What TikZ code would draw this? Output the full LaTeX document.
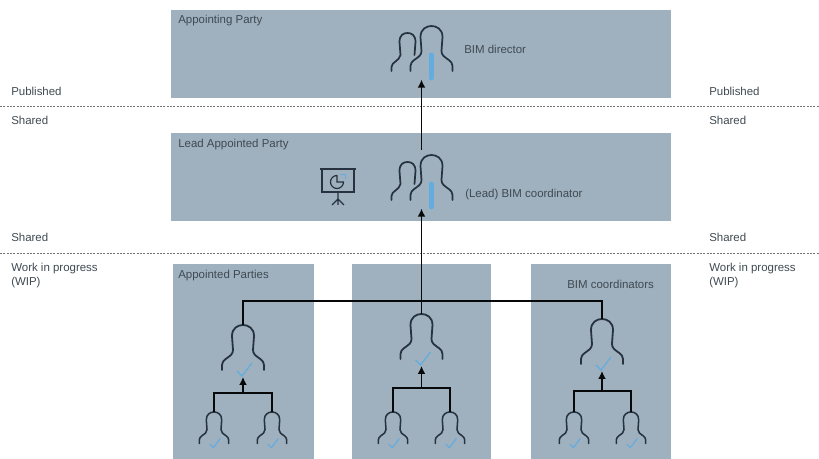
\documentclass[tikz,border=0pt]{standalone}
\usepackage{fontspec}
\setmainfont{Liberation Sans}
\usetikzlibrary{positioning,arrows.meta}
\definecolor{panel}{HTML}{9FB1BF}
\definecolor{ink}{HTML}{26333F}
\definecolor{tiecol}{HTML}{62ACDF}
\definecolor{txt}{HTML}{3F4A52}

\tikzset{
    person/.pic={
        \draw[ink, line cap=round, line join=round]
            (-21,45) -- (-21,40) .. controls (-21,35) and (-15,33) .. (-12,30)
            .. controls (-10.5,28) and (-10,27) .. (-10,25)
            -- (-11,11)
            .. controls (-11,3) and (-5,0) .. (0,0)
            .. controls (5,0) and (11,3) .. (11,11)
            -- (10,25)
            .. controls (10,27) and (10.5,28) .. (12,30)
            .. controls (15,33) and (21,35) .. (21,40) -- (21,45);
        \draw[tiecol, line width=.9pt] (-6,46) -- (-1,51) -- (9,38);
    },
    team/.pic={
        \draw[ink, line width=1.3pt, line cap=round, line join=round]
            (-30,45) -- (-30,41) .. controls (-30,36) and (-22,35) .. (-21,29)
            -- (-22,16)
            .. controls (-22,9) and (-18,7) .. (-14,7)
            .. controls (-10,7) and (-6,9) .. (-6,16)
            -- (-7,29);
        \draw[ink, line width=1.3pt, line cap=round, line join=round]
            (-11,45) -- (-11,40) .. controls (-11,35) and (-5,33) .. (-2,30)
            .. controls (-0.5,28) and (0,27) .. (0,25)
            -- (-1,11)
            .. controls (-1,3) and (5,0) .. (10,0)
            .. controls (15,0) and (21,3) .. (21,11)
            -- (20,25)
            .. controls (20,27) and (20.5,28) .. (22,30)
            .. controls (25,33) and (31,35) .. (31,40) -- (31,45);
        \draw[tiecol, line width=3.6pt, line cap=round] (10,29) -- (10,52);
    },
    screen/.pic={
        \draw[ink, line width=.9pt] (-18,-12) -- (18,-12);
        \draw[ink, line width=.9pt] (-16,-12) rectangle (16,11);
        \draw[ink, line width=.9pt] (5.5,1) arc (0:270:6.5) -- (-1,1) -- cycle;
        \draw[tiecol, line width=.7pt] (2,-7) -- (7,-7) -- (7,-2);
        \draw[ink, line width=.9pt] (0,11) -- (0,24) (-6,24) -- (0,18) -- (6,24);
    }
}

\begin{document}
\begin{tikzpicture}[
    x=.75pt, y=-.75pt,
    box/.style ={fill=panel, draw=none},
    lbl/.style ={anchor=west, yshift=-.7pt, inner sep=0pt, align=left, text=txt,
        font=\fontsize{8.6}{10.6}\selectfont},
    who/.style ={anchor=north, inner sep=0pt, outer sep=0pt, minimum width=31pt},
    group/.style ={anchor=north, inner sep=0pt, outer sep=4pt, minimum width=45pt, minimum height=36pt},
    wire/.style ={draw=black!85!ink, line width=1.25pt},
    >={Latex[length=6pt,width=6pt]}
    ]
    \useasboundingbox (0,0) rectangle (819,459);

    % panels
    \fill[box] (171,10) rectangle (671,98);
    \fill[box] (171,133) rectangle (671,221);
    \foreach \x/\w in {173/141, 352/139, 531/140}
        \fill[box] (\x,264) rectangle (\x+\w,459);

    % levels
    \foreach \y in {106, 253}
        \draw[black!55, line width=.5pt, dash pattern=on 1.5pt off 1pt] (0,\y) -- (819,\y);

    \foreach \x in {11, 709} {
        \node[lbl] at (\x,90) {Published};
        \node[lbl] at (\x,119) {Shared};
        \node[lbl] at (\x,236) {Shared};
        \node[lbl, anchor=north west] at (\x,262) {Work in progress\\(WIP)};
    }

    \node[lbl] (appointing) at (178,20) {Appointing Party};
    \node[lbl] (leadparty) at (178,144) {Lead Appointed Party};
    \node[lbl] (appointed) at (178,275) {Appointed Parties};
    \node[lbl] (coords) at (567,283) {BIM coordinators};
    \node[lbl] (dirtext) at (464,48) {BIM director};
    \node[lbl] (leadtext) at (465,194) {(Lead) BIM coordinator};

    % people
    \node[group] (director) at (421.5,21) {};
    \pic at (421.5,26) {team};
    \node[group] (lead) at (421.5,150) {};
    \pic at (421.5,155) {team};
    \pic at (338,181) {screen};

    \foreach \name/\x/\y in {leftchief/243/325, midchief/421.5/314, rightchief/602/319} {
        \node[who, minimum height=39pt] (\name) at (\x,\y) {};
        \pic[line width=1.35pt] at (\x,\y) {person};
    }
    \foreach \name/\x/\y in {leftone/214/412, lefttwo/272/412, midone/393/412, midtwo/450/412, rightone/574/412, righttwo/631/412} {
        \node[who, minimum width=22pt, minimum height=22pt] (\name) at (\x,\y) {};
        \pic[scale=.7, line width=1.15pt] at (\x,\y) {person};
    }

    % connectors
    \coordinate (busleft) at (243,301);
    \coordinate (busright) at (602,301);
    \coordinate (leftbar) at (243,393);
    \coordinate (midbar) at (421.5,388);
    \coordinate (rightbar) at (602,391);

    \draw[wire,->] (lead) -- (director);
    \draw[wire,->] (midchief.north) -- (lead);
    \draw[wire] (leftchief.north) -- (busleft) -- (busright) -- (rightchief.north);
    \foreach \g in {left, mid, right} {
        \draw[wire] (\g one.north) |- (\g bar) -| (\g two.north);
        \draw[wire,->] (\g bar) -- (\g chief.south);
    }
\end{tikzpicture}
\end{document}
